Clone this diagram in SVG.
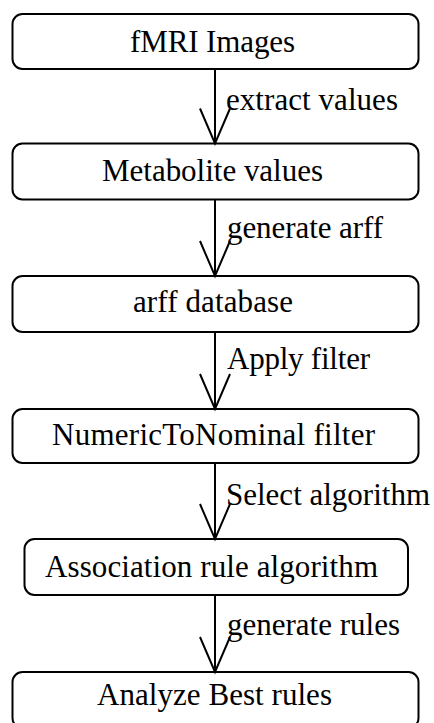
<svg xmlns="http://www.w3.org/2000/svg" width="434" height="723" viewBox="0 0 434 723">
<style>
.box{fill:#fff;stroke:#000;stroke-width:2}
.t{font-family:'Liberation Serif','Times New Roman',Times,serif;font-size:31px;fill:#000}
.c{stroke:#000;stroke-width:2;fill:none}
</style>
<rect width="434" height="723" fill="#fff"/>
<g id="n1"><rect class="box" x="12.5" y="14" width="406" height="55" rx="10"/><text class="t" x="130" y="51.5" textLength="165" lengthAdjust="spacing">fMRI Images</text></g>
<g id="n2"><rect class="box" x="12.5" y="143.5" width="406" height="56" rx="10"/><text class="t" x="102" y="181" textLength="221" lengthAdjust="spacing">Metabolite values</text></g>
<g id="n3"><rect class="box" x="12.5" y="276" width="406" height="56" rx="10"/><text class="t" x="133" y="312" textLength="160" lengthAdjust="spacing">arff database</text></g>
<g id="n4"><rect class="box" x="12.5" y="409" width="406" height="54" rx="10"/><text class="t" x="52" y="445" textLength="323" lengthAdjust="spacing">NumericToNominal filter</text></g>
<g id="n5"><rect class="box" x="24.5" y="539" width="383.5" height="56" rx="10"/><text class="t" x="45" y="577" textLength="333" lengthAdjust="spacing">Association rule algorithm</text></g>
<g id="n6"><rect class="box" x="12.5" y="672" width="406" height="56" rx="10"/><text class="t" x="97" y="705" textLength="235" lengthAdjust="spacing">Analyze Best rules</text></g>
<g id="connectors">
<path class="c" d="M215 69V143.5M200 108.5L215 143.5L230 108.5"/>
<path class="c" d="M215 199.5V276M200 241L215 276L230 241"/>
<path class="c" d="M215 332V409M200 374L215 409L230 374"/>
<path class="c" d="M215 463V539M200 504L215 539L230 504"/>
<path class="c" d="M215 595V672M200 637L215 672L230 637"/>
<text class="t" x="226" y="110" textLength="172" lengthAdjust="spacing">extract values</text>
<text class="t" x="227" y="238" textLength="156" lengthAdjust="spacing">generate arff</text>
<text class="t" x="227" y="369" textLength="143" lengthAdjust="spacing">Apply filter</text>
<text class="t" x="226" y="505" textLength="204" lengthAdjust="spacing">Select algorithm</text>
<text class="t" x="227" y="635" textLength="173" lengthAdjust="spacing">generate rules</text>
</g>
</svg>
